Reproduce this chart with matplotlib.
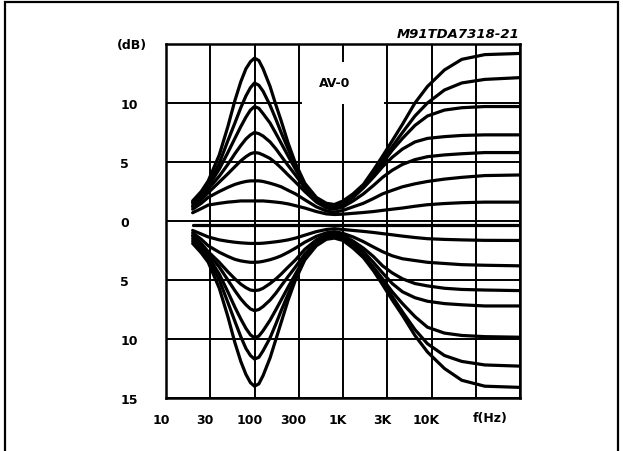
import numpy as np
import matplotlib.pyplot as plt
from matplotlib.patches import Rectangle
from matplotlib.transforms import ScaledTranslation

plt.rcParams['font.family'] = 'DejaVu Sans'
plt.rcParams['font.weight'] = 'bold'

freq = [20, 25, 30, 40, 50, 60, 70, 80, 90, 100, 112, 125, 150, 175, 200, 240, 290, 370, 500, 650, 800,
        1000, 1300, 1700, 2200, 2800, 3600, 4700, 6500, 9000, 14000, 22000, 40000, 100000]

# response (dB) for each bass/treble setting
boost_14 = [1.7, 2.5, 3.4, 5.6, 8.0, 10.2, 11.8, 12.9, 13.5, 13.8, 13.6, 12.9, 11.4, 9.8, 8.5, 6.6, 4.9, 3.2, 2.0, 1.5, 1.4,
            1.7, 2.3, 3.1, 4.3, 5.5, 6.8, 8.2, 10.0, 11.4, 12.8, 13.7, 14.1, 14.2]
boost_12 = [1.6, 2.3, 3.1, 4.9, 6.8, 8.3, 9.6, 10.6, 11.3, 11.7, 11.5, 11.0, 9.8, 8.6, 7.5, 6.1, 4.7, 3.1, 1.9, 1.4, 1.3,
            1.6, 2.2, 3.0, 4.1, 5.2, 6.3, 7.5, 8.9, 10.0, 11.1, 11.7, 12.0, 12.15]
boost_10 = [1.5, 2.2, 2.9, 4.4, 5.8, 7.0, 8.0, 8.8, 9.4, 9.7, 9.55, 9.1, 8.3, 7.4, 6.6, 5.5, 4.4, 3.0, 1.8, 1.3, 1.2,
            1.5, 2.1, 2.9, 3.9, 4.9, 6.0, 7.0, 8.1, 8.9, 9.4, 9.6, 9.7, 9.7]
boost_8 = [1.3, 2.0, 2.7, 3.8, 4.8, 5.7, 6.4, 6.95, 7.3, 7.5, 7.4, 7.2, 6.7, 6.1, 5.5, 4.7, 3.9, 2.8, 1.7, 1.2, 1.1,
           1.4, 2.0, 2.8, 3.7, 4.6, 5.4, 6.1, 6.7, 7.0, 7.15, 7.25, 7.3, 7.3]
boost_6 = [1.2, 1.8, 2.4, 3.3, 4.0, 4.6, 5.1, 5.45, 5.7, 5.8, 5.75, 5.6, 5.3, 4.9, 4.5, 3.9, 3.3, 2.5, 1.6, 1.1, 1.0,
           1.2, 1.7, 2.3, 3.0, 3.7, 4.3, 4.8, 5.2, 5.45, 5.6, 5.7, 5.8, 5.8]
boost_4 = [1.0, 1.5, 2.0, 2.5, 2.85, 3.1, 3.25, 3.35, 3.4, 3.4, 3.4, 3.35, 3.2, 3.05, 2.9, 2.6, 2.3, 1.8, 1.2, 0.85, 0.75,
           0.9, 1.2, 1.5, 1.9, 2.3, 2.6, 2.9, 3.15, 3.35, 3.55, 3.7, 3.85, 3.9]
boost_2 = [0.7, 1.05, 1.35, 1.5, 1.6, 1.65, 1.7, 1.7, 1.7, 1.7, 1.7, 1.7, 1.65, 1.6, 1.55, 1.45, 1.3, 1.1, 0.8, 0.6, 0.55,
           0.58, 0.65, 0.72, 0.8, 0.9, 1.0, 1.1, 1.25, 1.38, 1.48, 1.55, 1.6, 1.6]
flat = [-0.3, -0.3, -0.3, -0.3, -0.3, -0.3, -0.3, -0.3, -0.3, -0.3, -0.3, -0.3, -0.3, -0.3, -0.3, -0.3, -0.3,
        -0.3, -0.3, -0.3, -0.3, -0.3, -0.3, -0.3, -0.3, -0.3, -0.3, -0.3, -0.3, -0.3, -0.3, -0.3, -0.3, -0.3]
cut_2 = [-0.8, -1.1, -1.35, -1.6, -1.72, -1.8, -1.85, -1.88, -1.9, -1.9, -1.9, -1.88, -1.82, -1.76, -1.7, -1.6, -1.45,
         -1.2, -0.9, -0.72, -0.65,
         -0.72, -0.8, -0.88, -0.97, -1.07, -1.17, -1.28, -1.4, -1.5, -1.56, -1.6, -1.64, -1.65]
cut_4 = [-1.0, -1.55, -2.1, -2.65, -3.0, -3.25, -3.38, -3.45, -3.5, -3.5, -3.48, -3.42, -3.28, -3.12, -2.95, -2.65,
         -2.3, -1.8, -1.3, -1.0, -0.9,
         -1.05, -1.35, -1.75, -2.2, -2.6, -2.95, -3.2, -3.35, -3.5, -3.6, -3.7, -3.75, -3.8]
cut_6 = [-1.2, -1.9, -2.6, -3.5, -4.3, -4.9, -5.35, -5.65, -5.85, -5.9, -5.85, -5.7, -5.3, -4.9, -4.5, -3.9, -3.3,
         -2.4, -1.6, -1.15, -1.0,
         -1.2, -1.7, -2.3, -3.0, -3.8, -4.4, -4.9, -5.3, -5.5, -5.7, -5.8, -5.85, -5.9]
cut_8 = [-1.3, -2.05, -2.8, -3.9, -5.0, -5.9, -6.6, -7.1, -7.45, -7.6, -7.5, -7.25, -6.7, -6.1, -5.5, -4.7, -3.9,
         -2.8, -1.8, -1.25, -1.1,
         -1.3, -1.9, -2.6, -3.5, -4.4, -5.3, -6.0, -6.5, -6.8, -7.0, -7.1, -7.2, -7.2]
cut_10 = [-1.5, -2.2, -3.0, -4.5, -6.0, -7.3, -8.3, -9.1, -9.65, -9.9, -9.75, -9.3, -8.4, -7.5, -6.7, -5.6, -4.5,
          -3.1, -1.9, -1.35, -1.2,
          -1.45, -2.1, -2.9, -3.9, -4.9, -6.0, -7.0, -8.1, -9.0, -9.5, -9.7, -9.8, -9.85]
cut_12 = [-1.7, -2.4, -3.2, -5.0, -6.9, -8.5, -9.8, -10.8, -11.4, -11.7, -11.55, -11.0, -9.9, -8.7, -7.6, -6.2, -4.8,
          -3.2, -2.0, -1.45, -1.3,
          -1.55, -2.2, -3.0, -4.1, -5.2, -6.4, -7.7, -9.2, -10.4, -11.4, -11.9, -12.2, -12.3]
cut_14 = [-1.9, -2.7, -3.5, -5.7, -8.1, -10.3, -11.9, -13.0, -13.7, -14.0, -13.8, -13.1, -11.6, -10.0, -8.6, -6.7, -5.0,
          -3.3, -2.1, -1.55, -1.45,
          -1.65, -2.3, -3.1, -4.2, -5.4, -6.7, -8.0, -9.7, -11.1, -12.5, -13.5, -14.0, -14.1]

curves = [boost_14, boost_12, boost_10, boost_8, boost_6, boost_4, boost_2, flat,
          cut_2, cut_4, cut_6, cut_8, cut_10, cut_12, cut_14]

x_ticks = [10, 31.6, 100, 316, 1000, 3160, 10000, 31600, 100000]
x_labels = ['10', '30', '100', '300', '1K', '3K', '10K', '', '']
y_ticks = [-15, -10, -5, 0, 5, 10, 15]
y_labels = ['15', '10', '5', '0', '5', '10', '']

fig = plt.figure(figsize=(6.23, 4.52), dpi=100)
fig.add_artist(Rectangle((5 / 623, -0.05), 613 / 623, 1.05 - 3 / 452, transform=fig.transFigure,
                         fill=False, edgecolor='black', linewidth=1.6))
ax = fig.add_axes([166 / 623, 53 / 452, 354 / 623, 354 / 452])

for c in curves:
    ax.plot(freq, c, color='black', linewidth=2.3, solid_joinstyle='round',
            solid_capstyle='round', zorder=3)

ax.set_xscale('log')
ax.set_xlim(10, 100000)
ax.set_ylim(-15, 15)
ax.set_xticks(x_ticks)
ax.set_xticklabels(x_labels)
ax.xaxis.set_minor_locator(plt.NullLocator())
ax.set_yticks(y_ticks)
ax.set_yticklabels(y_labels, ha='left')
ax.tick_params(axis='y', length=0, pad=33, labelsize=9)
ax.tick_params(axis='x', length=0, pad=11, labelsize=9)
# labels sit a little left of their grid lines in the original
shift = ScaledTranslation(-5 / 100, 0, fig.dpi_scale_trans)
for lab in ax.get_xticklabels():
    lab.set_transform(lab.get_transform() + shift)
ax.set_axisbelow(True)
ax.grid(True, color='black', linewidth=1.4)
for s in ax.spines.values():
    s.set_linewidth(1.8)

# white patch behind the AV=0 note
ax.add_patch(Rectangle((0.385, 0.83), 0.232, 0.118, transform=ax.transAxes,
                       facecolor='white', edgecolor='none', zorder=1))
ax.text(0.475, 0.89, 'AV-0', transform=ax.transAxes, ha='center', va='center',
        fontsize=9, zorder=4)
ax.text(-0.096, 1.0, '(dB)', transform=ax.transAxes, ha='center', va='center', fontsize=9)
ax.text(0.915, -0.056, 'f(Hz)', transform=ax.transAxes, ha='center', va='center', fontsize=9)
ax.text(1.0, 1.03, 'M91TDA7318-21', transform=ax.transAxes, ha='right', va='center',
        fontsize=9.5, style='italic')

plt.savefig('out.png', dpi=100)
